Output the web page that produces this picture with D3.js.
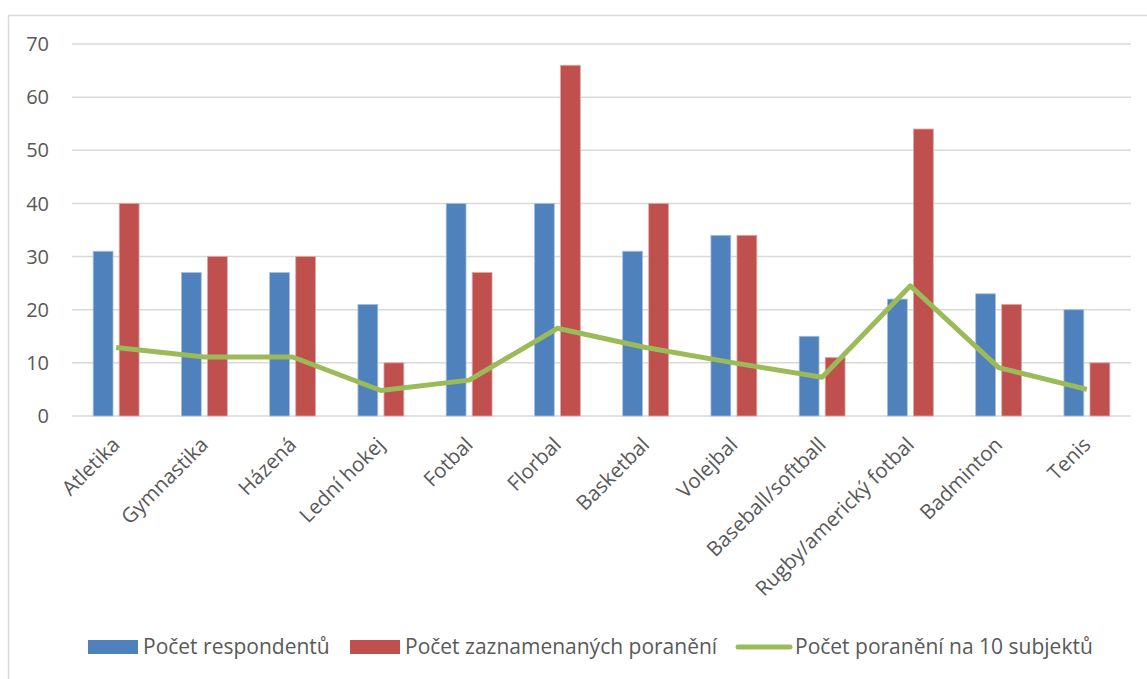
<!DOCTYPE html>
<html>
<head>
<meta charset="utf-8">
<script src="https://cdn.jsdelivr.net/npm/d3@7"></script>
<style>
body { margin: 0; background: #fff; }
text { font-family: "Open Sans", sans-serif; fill: #595959; }
</style>
</head>
<body>
<script>
// data
const sports = ["Atletika", "Gymnastika", "Házená", "Lední hokej", "Fotbal", "Florbal",
    "Basketbal", "Volejbal", "Baseball/softball", "Rugby/americký fotbal", "Badminton", "Tenis"];
const respondents = [31, 27, 27, 21, 40, 40, 31, 34, 15, 22, 23, 20];
const injuries = [40, 30, 30, 10, 27, 66, 40, 34, 11, 54, 21, 10];
const per10 = [12.9, 11.1, 11.1, 4.8, 6.75, 16.5, 12.9, 10.0, 7.3, 24.5, 9.1, 5.0];
const yTicks = [0, 10, 20, 30, 40, 50, 60, 70];
const legendNames = ["Počet respondentů", "Počet zaznamenaných poranění", "Počet poranění na 10 subjektů"];

const W = 1147, H = 679;
const blue = "#4f81bd", red = "#c0504d", green = "#9bbb59";

var svg = d3.select("body").append("svg")
    .attr("width", W)
    .attr("height", H);

// outer frame
svg.append("rect")
    .attr("x", 8.5).attr("y", 15.5)
    .attr("width", 1160).attr("height", 700)
    .attr("fill", "none")
    .attr("stroke", "#d9d9d9")
    .attr("stroke-width", 1.5);

const x = d3.scaleBand()
    .domain(sports)
    .range([72, 1131]);

const y = d3.scaleLinear()
    .domain([0, 70])
    .range([416, 44]);

// gridlines
svg.append("g")
    .selectAll("line")
    .data(yTicks)
    .enter()
    .append("line")
    .attr("x1", 72).attr("x2", 1131)
    .attr("y1", d => y(d)).attr("y2", d => y(d))
    .attr("stroke", "#d9d9d9")
    .attr("stroke-width", 1.5);

// y labels
svg.append("g")
    .selectAll("text")
    .data(yTicks)
    .enter()
    .append("text")
    .attr("x", 49)
    .attr("y", d => y(d))
    .attr("dy", "0.36em")
    .attr("text-anchor", "end")
    .style("font-size", "20px")
    .text(d => d);

const bw = x.bandwidth() * 0.225;
const gap = x.bandwidth() * 0.035;
const cx = d => x(d) + x.bandwidth() / 2;

svg.append("g")
    .selectAll("rect")
    .data(sports)
    .enter()
    .append("rect")
    .attr("x", d => cx(d) - gap - bw)
    .attr("width", bw)
    .attr("y", (d, i) => y(respondents[i]))
    .attr("height", (d, i) => y(0) - y(respondents[i]))
    .attr("fill", blue)
    .attr("stroke", "#a7c0de")
    .attr("stroke-width", 0.8);

svg.append("g")
    .selectAll("rect")
    .data(sports)
    .enter()
    .append("rect")
    .attr("x", d => cx(d) + gap)
    .attr("width", bw)
    .attr("y", (d, i) => y(injuries[i]))
    .attr("height", (d, i) => y(0) - y(injuries[i]))
    .attr("fill", red)
    .attr("stroke", "#dfa7a6")
    .attr("stroke-width", 0.8);

// line series
var line = d3.line()
    .x((d, i) => cx(sports[i]))
    .y(d => y(d));

svg.append("path")
    .datum(per10)
    .attr("d", line)
    .attr("fill", "none")
    .attr("stroke", green)
    .attr("stroke-width", 5)
    .attr("stroke-linejoin", "round");

// x labels, rotated
svg.append("g")
    .selectAll("text")
    .data(sports)
    .enter()
    .append("text")
    .attr("transform", d => "translate(" + (cx(d) + 5) + ",446) rotate(-45)")
    .attr("text-anchor", "end")
    .style("font-size", "20.5px")
    .text(d => d);

// legend
const legY = 647;
var leg = svg.append("g");
leg.append("rect").attr("x", 88).attr("y", legY - 7).attr("width", 50).attr("height", 14).attr("fill", blue);
leg.append("text").attr("x", 143).attr("y", legY).attr("dy", "0.35em").style("font-size", "21px").text(legendNames[0]);
leg.append("rect").attr("x", 350).attr("y", legY - 7).attr("width", 50).attr("height", 14).attr("fill", red);
leg.append("text").attr("x", 405).attr("y", legY).attr("dy", "0.35em").style("font-size", "21px").text(legendNames[1]);
leg.append("line").attr("x1", 738).attr("x2", 790).attr("y1", legY).attr("y2", legY)
    .attr("stroke", green).attr("stroke-width", 5).attr("stroke-linecap", "round");
leg.append("text").attr("x", 795).attr("y", legY).attr("dy", "0.35em").style("font-size", "21px").text(legendNames[2]);
</script>
</body>
</html>
